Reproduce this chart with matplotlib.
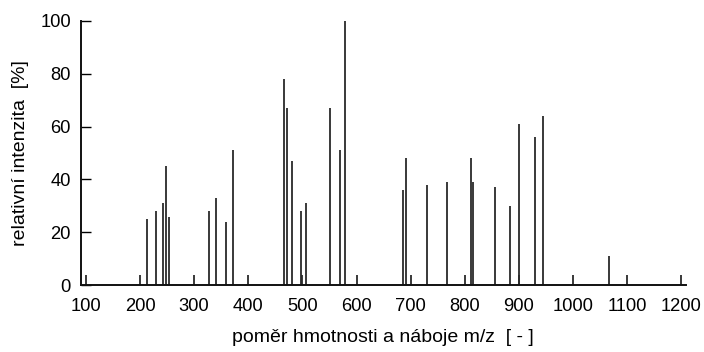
import matplotlib
matplotlib.use("Agg")
import matplotlib.pyplot as plt

# hodnoty: m/z a relativni intenzita
mz = [100, 200, 213, 229, 242, 248, 254, 300, 328, 340, 358, 372, 400,
      466, 471, 480, 497, 500, 507, 551, 570, 579, 600, 686, 692, 700,
      731, 767, 800, 812, 815, 855, 883, 900, 900, 930, 944, 1000, 1067,
      1100, 1200]
intenzita = [4, 4, 25, 28, 31, 45, 26, 4, 28, 33, 24, 51, 4,
             78, 67, 47, 28, 4, 31, 67, 51, 100, 4, 36, 48, 4,
             38, 39, 4, 48, 39, 37, 30, 61, 4, 56, 64, 4, 11,
             4, 4]

x_ticks = [100, 200, 300, 400, 500, 600, 700, 800, 900, 1000, 1100, 1200]
y_ticks = [0, 20, 40, 60, 80, 100]

plt.rcParams['font.family'] = ['Liberation Sans', 'DejaVu Sans']

fig = plt.figure(figsize=(7.04, 3.52), dpi=100)
ax = fig.add_axes([0.1146, 0.1895, 0.8594, 0.7515])

ax.vlines(mz, 0, intenzita, color="#2a2a2a", linewidth=1.3)

ax.set_xlim(90.5, 1208)
ax.set_ylim(0, 100)
ax.set_xticks(x_ticks)
ax.set_yticks(y_ticks)

for s in ["top", "right"]:
    ax.spines[s].set_visible(False)
for s in ["left", "bottom"]:
    ax.spines[s].set_linewidth(1.4)
    ax.spines[s].set_color("#111111")

ax.tick_params(axis="x", length=0, pad=9.5, labelsize=13.2)
ax.tick_params(axis="y", direction="in", length=7.5, width=1.0, pad=7, labelsize=13.2)

ax.set_xlabel("poměr hmotnosti a náboje m/z  [ - ]", fontsize=14, labelpad=10)
ax.set_ylabel("relativní intenzita  [%]", fontsize=14, labelpad=8)

fig.savefig("out.png", dpi=100)
